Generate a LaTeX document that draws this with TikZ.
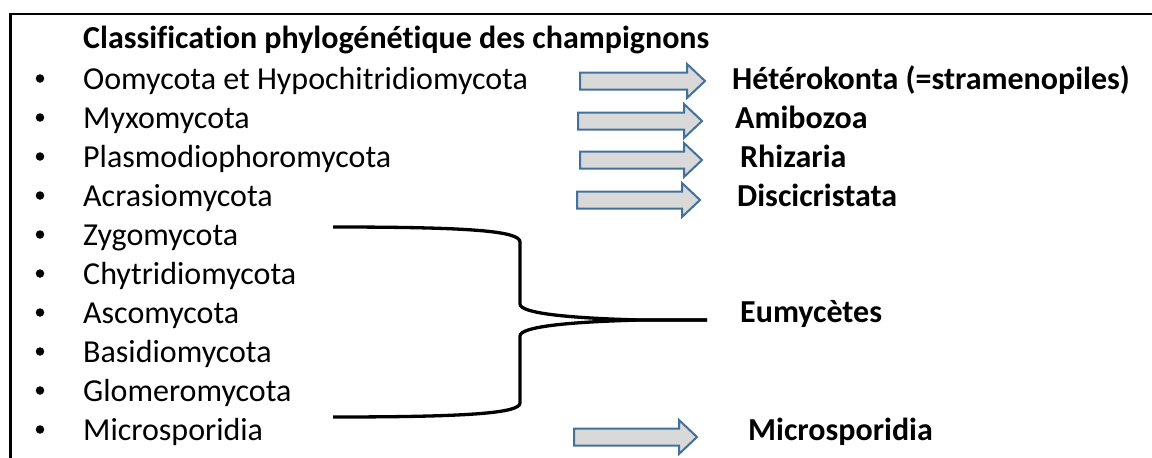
\documentclass[tikz,border=0pt]{standalone}
\usepackage{fontspec}
\setmainfont{Carlito}[Ligatures=NoCommon]
\definecolor{arrowfill}{HTML}{D9D9D9}
\definecolor{arrowline}{HTML}{41719C}

% block arrow from x=#1 to tip x=#2, centred on y=#3
\newcommand\blockarr[3]{%
  \draw[blockarrow] ({#1},{#3-8.5}) -- ({#2-18},{#3-8.5}) -- ({#2-18},{#3-17})
    -- ({#2},{#3}) -- ({#2-18},{#3+17}) -- ({#2-18},{#3+8.5}) -- ({#1},{#3+8.5}) -- cycle;}

\begin{document}
\begin{tikzpicture}[x=1pt,y=-1pt,
  entry/.style={anchor=base west, inner sep=0pt, font=\fontsize{32}{36}\selectfont},
  taxon/.style={anchor=base west, inner sep=0pt, font=\fontsize{32}{36}\selectfont\bfseries},
  dot/.style={circle, fill=black, inner sep=0pt, minimum size=8.5pt},
  blockarrow/.style={draw=arrowline, fill=arrowfill, line width=2pt, line join=miter},
  frame/.style={line width=2.6pt},
  brace/.style={line width=3.3pt, line join=round}]
\useasboundingbox (0,0) rectangle (1152,458);

% frame
\draw[frame] (10.5,458) -- (10.5,14) -- (1152,14);

% title
\node[taxon] (title) at (83,48) {Classification phylogénétique des champignons};

% bulleted list of groups
\foreach \t [count=\i from 0] in {Oomycota et Hypochitridiomycota, Myxomycota,
    Plasmodiophoromycota, Acrasiomycota, Zygomycota, Chytridiomycota, Ascomycota,
    Basidiomycota, Glomeromycota, Microsporidia} {
  \node[entry] (item\i) at (83,{89+39*\i}) {\t};
  \node[dot] (bullet\i) at (40,{78.5+39*\i}) {};
}

% block arrows
\blockarr{580}{705}{81}
\blockarr{578}{702}{121}
\blockarr{580}{702}{160}
\blockarr{577}{700}{200}
\blockarr{574}{697}{437}

% target clades
\node[taxon] (hetero) at (732,89) {Hétérokonta (=stramenopiles)};
\node[taxon] (amibo) at (735,128) {Amibozoa};
\node[taxon] (rhiz) at (740,167) {Rhizaria};
\node[taxon] (disci) at (737,206) {Discicristata};
\node[taxon] (eumy) at (740,322) {Eumycètes};
\node[taxon] (micro) at (748,440) {Microsporidia};

% brace grouping the true fungi
\coordinate (btop) at (333,227);
\coordinate (bbot) at (333,417);
\coordinate (btip) at (707,320);
\draw[brace] (btop) .. controls (470,227) and (520,231) .. (520,242)
  -- (520,304) .. controls (520,313) and (565,318) .. (640,320) -- (btip);
\draw[brace] (btip) -- (640,320) .. controls (565,322) and (520,327) .. (520,336)
  -- (520,403) .. controls (520,413) and (470,417) .. (bbot);
\end{tikzpicture}
\end{document}
